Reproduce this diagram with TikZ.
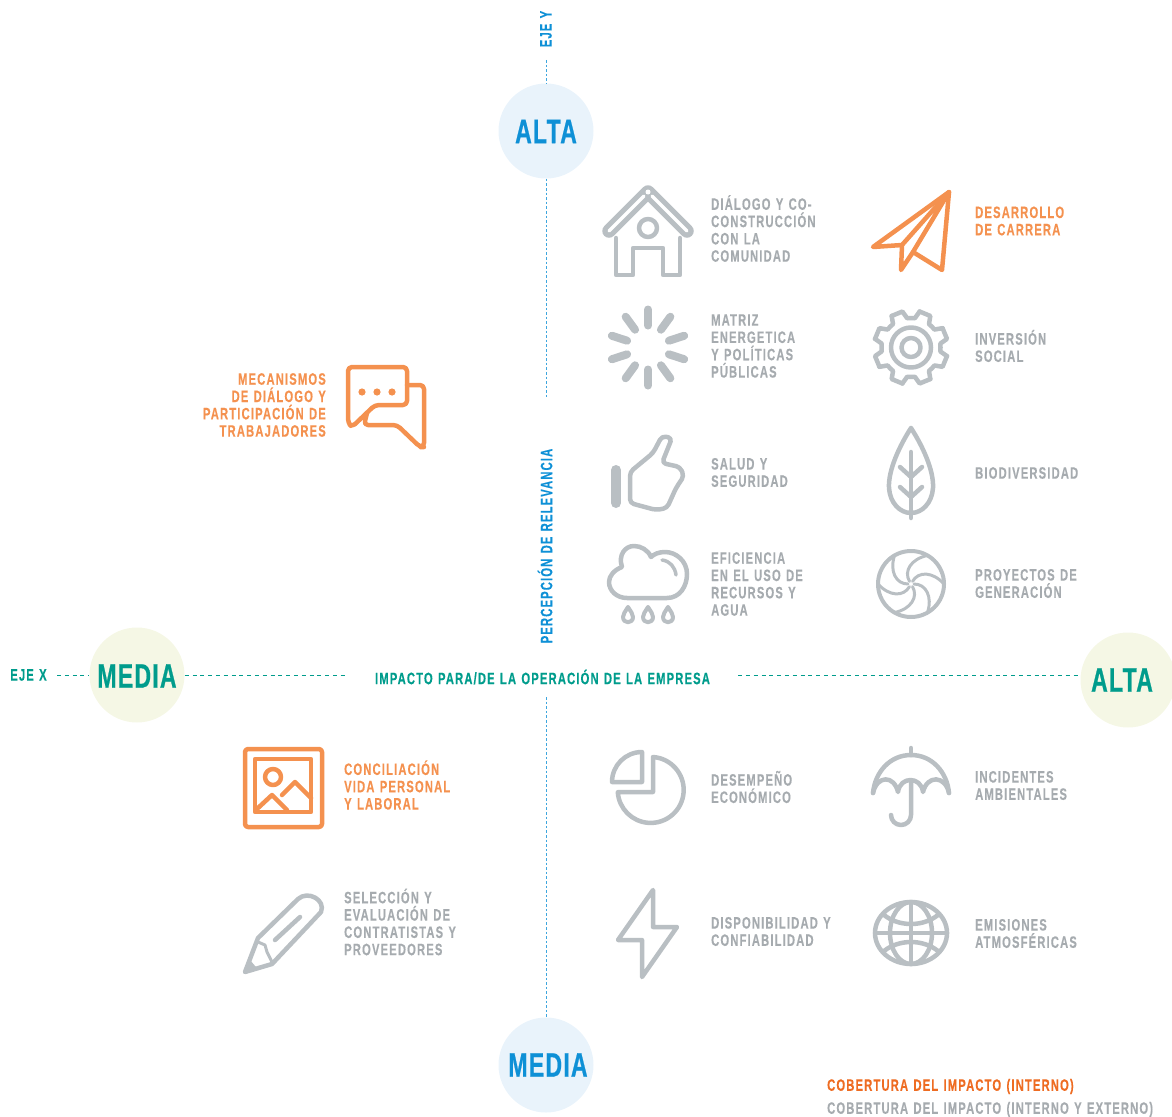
\documentclass[tikz,border=0pt]{standalone}
\usepackage{fontspec}
\setmainfont{Liberation Sans Bold}[FakeStretch=0.68,LetterSpace=7,WordSpace=1.25,FakeBold=0.3]
\newfontfamily\bigfont{Liberation Sans Bold}[FakeStretch=0.68,LetterSpace=3.5,FakeBold=0.6]
\definecolor{icongray}{HTML}{B9BFC3}
\definecolor{textgray}{HTML}{A6ABAF}
\definecolor{brandorange}{HTML}{F4914F}
\definecolor{legendorange}{HTML}{EE6C22}
\definecolor{brandteal}{HTML}{009C8C}
\definecolor{brandblue}{HTML}{0E90D6}
\definecolor{circblue}{HTML}{E9F3FB}
\definecolor{circgreen}{HTML}{F5F7E5}
\tikzset{
  icon/.style={draw=icongray, line width=4.5pt, line cap=round, line join=round},
  iconorange/.style={draw=brandorange, line width=4.5pt, line cap=round, line join=round},
  lblgray/.style={anchor=west, align=left, text=textgray, inner sep=0pt, font=\fontsize{16.5}{17.3}\selectfont},
  lblorange/.style={lblgray, text=brandorange},
  lblright/.style={lblorange, anchor=east, align=right},
  lblaxis/.style={inner sep=0pt, font=\fontsize{16.5}{17}\selectfont},
  lblbig/.style={inner sep=0pt, font=\fontsize{34}{36}\bigfont},
  circ/.style={circle, minimum size=95pt, inner sep=0pt},
  axisy/.style={draw=brandblue!80, line width=0.8pt, dash pattern=on 2.6pt off 2pt},
  axisx/.style={draw=brandteal, line width=0.8pt, dash pattern=on 4pt off 3.8pt}
}
\begin{document}
\begin{tikzpicture}[x=1pt,y=-1pt]
\useasboundingbox (0,0) rectangle (1172,1116);

% Circles
\node[circ, fill=circblue] (altay) at (546,131) {};
\node[circ, fill=circblue] (mediay) at (546,1065) {};
\node[circ, fill=circgreen] (mediax) at (137,675) {};
\node[circ, fill=circgreen] (altax) at (1128,680) {};
\node[lblbig, text=brandblue] (altaytxt) at (546,131.5) {ALTA};
\node[lblbig, text=brandblue] (mediaytxt) at (548,1065) {MEDIA};
\node[lblbig, text=brandteal] (mediaxtxt) at (137,676) {MEDIA};
\node[lblbig, text=brandteal] (altaxtxt) at (1122,680) {ALTA};

% Axis labels
\node[lblaxis, text=brandblue, rotate=90] (ejey) at (546,29) {EJE Y};
\node[lblaxis, text=brandblue, rotate=90] (percepcion) at (545,546) {PERCEPCIÓN DE RELEVANCIA};
\node[lblaxis, text=brandteal] (ejex) at (28.5,675) {EJE X};
\node[lblaxis, text=brandteal, inner xsep=28pt] (impacto) at (542.5,677) {IMPACTO PARA/DE LA OPERACIÓN DE LA EMPRESA};

% Axes
\coordinate (ytop) at (546,60);
\coordinate (ymid) at (546,397);
\coordinate (ylow) at (546,697);
\coordinate (xleft) at (57,675);
\draw[axisy] (ytop) -- (altay);
\draw[axisy] (altay) -- (ymid);
\draw[axisy] (ylow) -- (mediay);
\draw[axisx] (xleft) -- (mediax);
\draw[axisx] (mediax) -- (mediax -| impacto.west);
\draw[axisx] (impacto.east |- mediax) -- (altax.west |- mediax);

% House
\draw[icongray, line width=13.5pt, line cap=round, line join=round] (609,231) -- (648,192) -- (687,231);
\draw[white, line width=3.5pt, line cap=round] (609,231) -- (644,196);
\draw[white, line width=3.5pt, line cap=round] (652,196) -- (687,231);
\fill[white] (648,192) circle[radius=2.5];
\draw[icon] (616,238) -- (616,275) -- (633,275) -- (633,248) -- (663,248) -- (663,275) -- (680,275) -- (680,238);
\draw[icon] (648,228) circle[radius=9];

% Paper plane
\draw[iconorange] (949,192) -- (873,247) -- (902,245) -- (901,270) -- (913,252) -- (942,270) -- cycle;
\draw[iconorange] (902,245) -- (949,192) -- (913,252);

% Spinner
\foreach \a in {90,126,...,414}
    \draw[icongray, line width=8pt, line cap=round] (648,347.5) ++(\a:22) -- ++(\a:16);

% Gear
\begin{scope}[shift={(911,347.5)}]
\foreach \a in {22.5,67.5,...,337.5}
    \draw[icon] (\a-9:37) -- (\a+9:37) -- (\a+15:29.5) arc[start angle=\a+15, end angle=\a+30, radius=29.5] -- (\a+36:37);
\draw[icon] (0,0) circle[radius=20];
\draw[icon] (0,0) circle[radius=9.5];
\end{scope}

% Thumb
\draw[icongray, line width=10pt, line cap=round] (616,470) -- (616,503);
\draw[icon, rounded corners=4pt] (630,503) -- (630,472) -- (653,453) -- (662,436) -- (672,438) -- (662,463) -- (680,467) -- (684,476) -- (676,488) -- (667,508) -- (656,510) -- cycle;

% Leaf
\draw[icon] (911,428) .. controls (900,445) and (888,470) .. (889,488) .. controls (890,503) and (900,513) .. (911,513) .. controls (922,513) and (932,503) .. (933,488) .. controls (934,470) and (922,445) .. (911,428);
\draw[icon] (911,452) -- (911,518);
\draw[icon] (900,467) -- (911,477) -- (922,467);
\draw[icon] (900,487) -- (911,497) -- (922,487);

% Cloud
\draw[icon] (627,598) -- (667,598) .. controls (680,598) and (687,586) .. (687,574) .. controls (687,561) and (676,552) .. (665,552) .. controls (659,552) and (654,554) .. (651,557) .. controls (648,550) and (641,546) .. (634,546) .. controls (625,546) and (618,555) .. (622,567) .. controls (614,570) and (609,576) .. (609,582) .. controls (609,591) and (617,598) .. (627,598);
\draw[icon, line width=3.5pt] (662,560) .. controls (670,561) and (675,567) .. (676,575);
\foreach \x in {628,648,668}
    \draw[icon, line width=4pt] (\x,607) .. controls (\x+3,612) and (\x+5,614) .. (\x+5,617) .. controls (\x+5,624) and (\x-5,624) .. (\x-5,617) .. controls (\x-5,614) and (\x-3,612) .. (\x,607);

% Aperture
\begin{scope}[shift={(911,584)}]
\draw[icon, line width=4pt] (0,0) circle[radius=33];
\foreach \a in {0,60,...,300}
    \draw[icon, line width=3pt] (\a:3) .. controls (\a:15) and (\a+30:25) .. (\a+60:33);
\end{scope}

% Pie
\draw[icon] (642,752) -- (642,782) -- (612,782) arc[start angle=180, end angle=270, radius=30] -- cycle;
\draw[icon] (653,757) arc[start angle=-86, end angle=176, radius=33] -- (653,792) -- cycle;

% Umbrella
\draw[icon] (873,793) .. controls (875,772) and (890,755) .. (911,755) .. controls (932,755) and (947,772) .. (949,793);
\draw[icon] (873,793) .. controls (877,775) and (894,775) .. (898,792) .. controls (900,776) and (921,776) .. (923,792) .. controls (927,775) and (945,775) .. (949,793);
\draw[icon] (911,748) -- (911,755);
\draw[icon] (911,782) -- (911,815) arc[start angle=0, end angle=180, radius=10];

% Bolt
\draw[icon] (653,890) -- (618,940) -- (642,940) -- (642,977) -- (677,927) -- (653,927) -- cycle;

% Globe
\begin{scope}[shift={(911,933)}]
\draw[icon] (0,0) ellipse[x radius=36, y radius=31];
\draw[icon] (0,0) ellipse[x radius=21, y radius=31];
\draw[icon] (0,-31) -- (0,31);
\draw[icon] (-36,0) -- (36,0);
\draw[icon] (-27,-18) .. controls (-12,-6) and (12,-6) .. (27,-18);
\draw[icon] (-27,18) .. controls (-12,6) and (12,6) .. (27,18);
\end{scope}

% Speech bubbles
\draw[iconorange, rounded corners=4pt] (348,367) -- (407,367) -- (407,405) -- (375,405) -- (352,427) -- (348,423) -- cycle;
\draw[iconorange, rounded corners=4pt] (407,385) -- (424,385) -- (424,447) -- (420,447) -- (397,425) -- (364,425) -- (367,413);
\foreach \x in {362,377,392}
    \fill[brandorange] (\x,392) circle[radius=3.6];

% Picture frame
\draw[iconorange, rounded corners=3pt] (245,749) rectangle (322,827);
\draw[iconorange] (255,759) rectangle (311,812);
\draw[iconorange] (273,777) circle[radius=8];
\draw[iconorange] (258,808) -- (272,795) -- (287,810);
\draw[iconorange] (282,795) -- (295,782) -- (311,798);

% Pencil
\draw[icon] (245,972) -- (258,938) -- (298,899) .. controls (308,890) and (326,900) .. (321,912) -- (272,964) -- cycle;
\draw[icon] (275,940) -- (300,917);
\draw[icon, line width=3pt] (258,942) -- (265,945) -- (267,952) -- (272,962);
\fill[icongray] (245,972) -- (250,960) -- (256,967) -- cycle;

% Labels
\node[lblgray] (dialogo) at (711,228.5) {DIÁLOGO Y CO-\\CONSTRUCCIÓN\\CON LA\\COMUNIDAD};
\node[lblorange] (carrera) at (975,221) {DESARROLLO\\DE CARRERA};
\node[lblgray] (matriz) at (711,346) {MATRIZ\\ENERGETICA\\Y POLÍTICAS\\PÚBLICAS};
\node[lblgray] (inversion) at (975,346) {INVERSIÓN\\SOCIAL};
\node[lblright] (mecanismos) at (326,405) {MECANISMOS\\DE DIÁLOGO Y\\PARTICIPACIÓN DE\\TRABAJADORES};
\node[lblgray] (salud) at (711,472.5) {SALUD Y\\SEGURIDAD};
\node[lblgray] (biodiversidad) at (975,473) {BIODIVERSIDAD};
\node[lblgray] (eficiencia) at (711,584) {EFICIENCIA\\EN EL USO DE\\RECURSOS Y\\AGUA};
\node[lblgray] (proyectos) at (975,583.5) {PROYECTOS DE\\GENERACIÓN};
\node[lblorange] (conciliacion) at (344,785) {CONCILIACIÓN\\VIDA PERSONAL\\Y LABORAL};
\node[lblgray] (desempeno) at (711,787) {DESEMPEÑO\\ECONÓMICO};
\node[lblgray] (incidentes) at (975,785.5) {INCIDENTES\\AMBIENTALES};
\node[lblgray] (seleccion) at (344,922) {SELECCIÓN Y\\EVALUACIÓN DE\\CONTRATISTAS Y\\PROVEEDORES};
\node[lblgray] (disponibilidad) at (711,931.5) {DISPONIBILIDAD Y\\CONFIABILIDAD};
\node[lblgray] (emisiones) at (975,933.5) {EMISIONES\\ATMOSFÉRICAS};

% Legend
\node[lblgray, text=legendorange] (leginterno) at (827,1086.5) {COBERTURA DEL IMPACTO (INTERNO)};
\node[lblgray] (legexterno) at (827,1109.5) {COBERTURA DEL IMPACTO (INTERNO Y EXTERNO)};
\end{tikzpicture}
\end{document}
